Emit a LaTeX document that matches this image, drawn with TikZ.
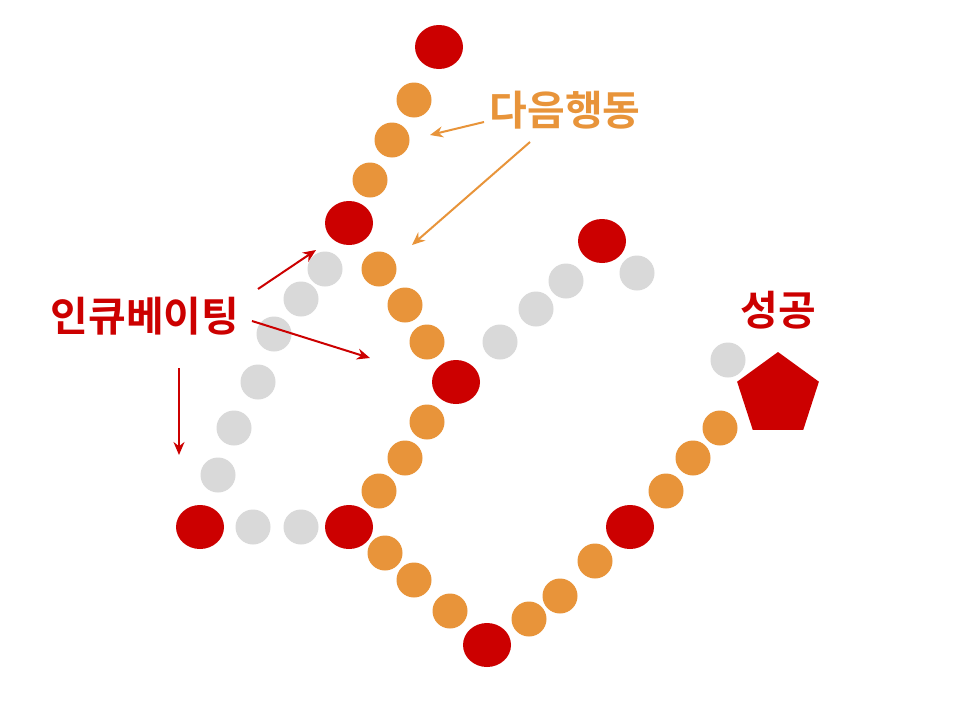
\documentclass[tikz,border=0pt]{standalone}
\usepackage{fontspec}
\newfontfamily\kr{Noto Sans CJK KR Bold}
\usetikzlibrary{shapes.geometric,arrows.meta}
\definecolor{dred}{HTML}{CC0000}
\definecolor{dor}{HTML}{E8943A}
\definecolor{dgr}{HTML}{D9D9D9}
\begin{document}
\begin{tikzpicture}[x=1pt,y=-1pt,
 rdot/.style={ellipse,fill=dred,minimum width=48pt,minimum height=44pt,inner sep=0},
 odot/.style={circle,fill=dor,minimum size=35pt,inner sep=0},
 gdot/.style={circle,fill=dgr,minimum size=35pt,inner sep=0},
 oarr/.style={draw=dor,line width=2pt,-{Stealth[length=13pt,width=11pt]}},
 rarr/.style={draw=dred,line width=2pt,-{Stealth[length=13pt,width=11pt]}},
 lbl/.style={font=\kr\fontsize{41}{46}\selectfont}]
\useasboundingbox (0,0) rectangle (960,720);
\fill[white] (0,0) rectangle (960,720);
\foreach \x/\y [count=\i] in {439/47,349/223,602/241,456/382,200/527,349/527,487/645,630/527}
 \node[rdot] (r\i) at (\x,\y) {};
\foreach \x/\y [count=\i] in {414/100,392/140,370/180,379/269,405/305,427/342,427/422,405/458,379/491,385/553,414/580,450/611,529/619,560/596,595/561,666/491,693/458,720/428}
 \node[odot] (o\i) at (\x,\y) {};
\foreach \x/\y [count=\i] in {325/269,301/299,274/334,258/382,234/428,218/475,253/527,301/527,500/342,536/309,566/281,637/273,728/360}
 \node[gdot] (g\i) at (\x,\y) {};
\node[regular polygon,regular polygon sides=5,fill=dred,minimum size=86pt,inner sep=0] (goal) at (778,395) {};
\node[lbl,text=dor] (next) at (565,110) {다음행동};
\node[lbl,text=dred] (incu) at (145,316) {인큐베이팅};
\node[lbl,text=dred] (succ) at (778,310) {성공};
\coordinate (a1s) at (484,122); \coordinate (a1e) at (430,135);
\coordinate (a2s) at (530,142); \coordinate (a2e) at (412,245);
\coordinate (b1s) at (258,289); \coordinate (b1e) at (316,250);
\coordinate (b2s) at (252,321); \coordinate (b2e) at (370,358);
\coordinate (b3s) at (179,368); \coordinate (b3e) at (179,455);
\draw[oarr] (a1s) -- (a1e);
\draw[oarr] (a2s) -- (a2e);
\draw[rarr] (b1s) -- (b1e);
\draw[rarr] (b2s) -- (b2e);
\draw[rarr] (b3s) -- (b3e);
\end{tikzpicture}
\end{document}
